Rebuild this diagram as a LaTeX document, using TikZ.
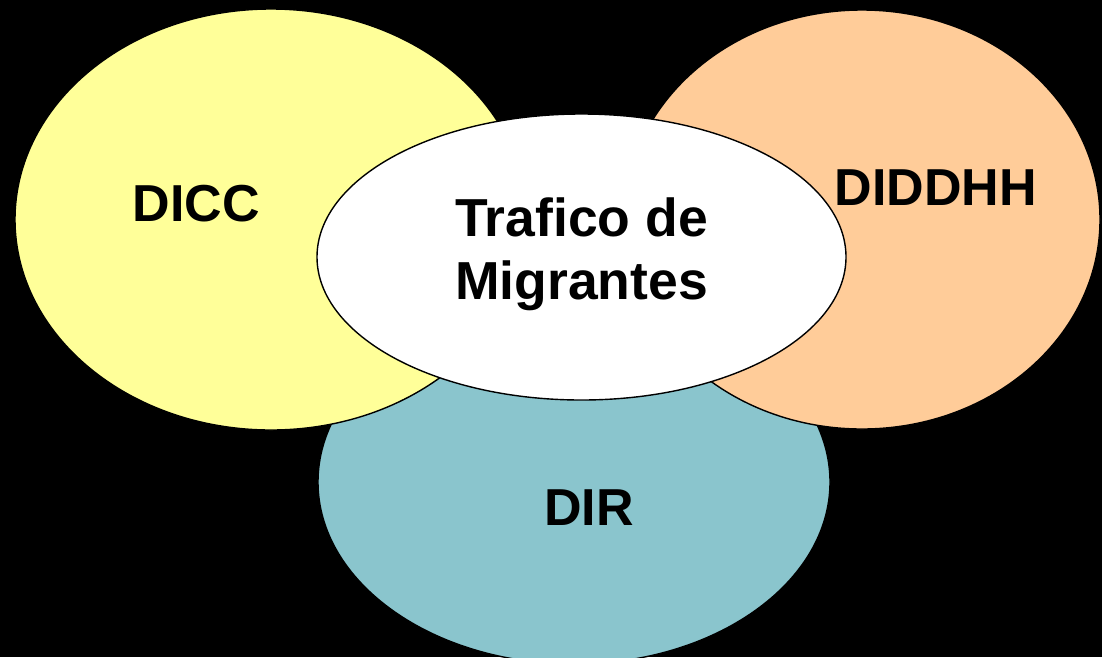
\documentclass[tikz,border=0pt]{standalone}
\usepackage{fontspec}
\setmainfont{Liberation Sans}
\usetikzlibrary{shapes.geometric}
\definecolor{cyellow}{HTML}{FFFF99}
\definecolor{corange}{HTML}{FFCC99}
\definecolor{cteal}{HTML}{8AC5CD}
\tikzset{
  blob/.style={ellipse, draw=black, line width=1.4pt, inner sep=0pt, outer sep=0pt},
  lab/.style={font=\fontsize{52}{60}\selectfont\bfseries, text=black, inner sep=0pt},
  clab/.style={font=\fontsize{53.5}{62}\selectfont\bfseries, text=black, inner sep=0pt}
}
\begin{document}
\begin{tikzpicture}[x=1pt,y=-1pt]
\fill[black] (0,0) rectangle (1102,657);
\useasboundingbox (0,0) rectangle (1102,657);
\begin{scope}
\clip (0,0) rectangle (1102,657);
\node[blob, fill=cteal, minimum width=512pt, minimum height=364pt] (dir) at (574,482) {};
\node[blob, fill=cyellow, minimum width=512pt, minimum height=421pt] (dicc) at (271,219.5) {};
\node[blob, fill=corange, minimum width=476pt, minimum height=419pt] (diddhh) at (862,219.5) {};
\node[blob, fill=white, minimum width=529pt, minimum height=286pt] (tra) at (581.5,257) {};
\end{scope}
\node[lab, anchor=base] (tdicc) at (196.5,221) {DICC};
\node[lab, anchor=base] (tdiddhh) at (936,205) {DIDDHH};
\node[lab, anchor=base] (tdir) at (589,525) {DIR};
\node[clab, anchor=base] (t1) at (581.5,236) {Trafico de};
\node[clab, anchor=base] (t2) at (581.5,299) {Migrantes};
\end{tikzpicture}
\end{document}
